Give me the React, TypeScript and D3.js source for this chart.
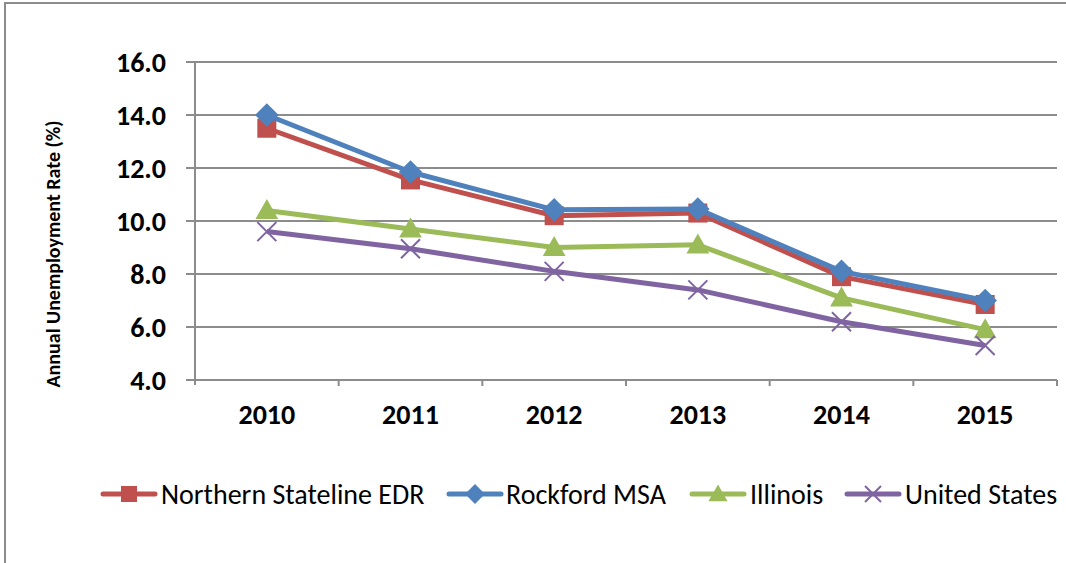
import React from "react";
import * as d3 from "d3";

const years = ["2010", "2011", "2012", "2013", "2014", "2015"];
const northernStateline = [13.5, 11.55, 10.2, 10.3, 7.9, 6.85];
const rockfordMSA = [14.0, 11.85, 10.42, 10.45, 8.1, 7.0];
const illinois = [10.4, 9.7, 9.0, 9.1, 7.1, 5.9];
const unitedStates = [9.6, 8.95, 8.1, 7.4, 6.2, 5.3];
const yTicks = [4, 6, 8, 10, 12, 14, 16];

const seriesNames = ["Northern Stateline EDR", "Rockford MSA", "Illinois", "United States"];
const seriesValues = [northernStateline, rockfordMSA, illinois, unitedStates];
const seriesColors = ["#C0504D", "#4F81BD", "#9BBB59", "#8064A2"];
const seriesMarkers = ["square", "diamond", "triangle", "x"];

const W = 1066;
const H = 563;
const left = 195;
const right = 1057;
const top = 62;
const bottom = 380;
const FONT = "Calibri, Carlito, 'Open Sans', Lato, sans-serif";

function Marker({ type, x, y, color, s }: { type: string; x: number; y: number; color: string; s: number }) {
  if (type === "square") {
    return <rect x={x - s / 2} y={y - s / 2} width={s} height={s} fill={color} />;
  }
  if (type === "diamond") {
    const r = s * 0.62;
    return <path d={`M${x},${y - r}L${x + r},${y}L${x},${y + r}L${x - r},${y}Z`} fill={color} />;
  }
  if (type === "triangle") {
    const r = s * 0.6;
    return <path d={`M${x},${y - r}L${x + r},${y + r * 0.75}L${x - r},${y + r * 0.75}Z`} fill={color} />;
  }
  const r = s * 0.5;
  return (
    <path
      d={`M${x - r},${y - r}L${x + r},${y + r}M${x - r},${y + r}L${x + r},${y - r}`}
      stroke={color}
      strokeWidth={2}
      fill="none"
    />
  );
}

export default function App() {
  const x = d3.scaleBand<string>().domain(years).range([left, right]);
  const y = d3.scaleLinear().domain([4, 16]).range([bottom, top]);
  const line = d3
    .line<number>()
    .x((_, i) => (x(years[i]) as number) + x.bandwidth() / 2)
    .y((d) => y(d));

  const legendItems = [
    { lx: 101, tx: 161 },
    { lx: 447, tx: 506 },
    { lx: 690, tx: 750 },
    { lx: 845, tx: 905 },
  ];
  const legendY = 494;

  return (
    <svg
      width={W}
      height={H}
      style={{ position: "absolute", left: 0, top: 0, background: "#fff" }}
      fontFamily={FONT}
    >
      <rect x={5} y={3} width={W + 10} height={H + 10} fill="#fff" stroke="#8c8c8c" strokeWidth={2} />
      {/* gridlines */}
      {yTicks.map((t) => (
        <g key={t}>
          <line x1={left - 9} x2={right} y1={y(t)} y2={y(t)} stroke="#8c8c8c" strokeWidth={2} />
          <text
            x={166}
            y={y(t)}
            textAnchor="end"
            dominantBaseline="central"
            fontSize={28}
            fontWeight="bold"
            fill="#000"
          >
            {t.toFixed(1)}
          </text>
        </g>
      ))}
      {/* y axis */}
      <line x1={left} x2={left} y1={top} y2={bottom + 5} stroke="#8c8c8c" strokeWidth={2} />
      {/* x ticks */}
      {years.map((yr) => (
        <line
          key={"t" + yr}
          x1={(x(yr) as number) + x.bandwidth()}
          x2={(x(yr) as number) + x.bandwidth()}
          y1={bottom}
          y2={bottom + 6}
          stroke="#8c8c8c"
          strokeWidth={2}
        />
      ))}
      {years.map((yr) => (
        <text
          key={"l" + yr}
          x={(x(yr) as number) + x.bandwidth() / 2}
          y={414}
          textAnchor="middle"
          dominantBaseline="central"
          fontSize={28}
          fontWeight="bold"
          fill="#000"
        >
          {yr}
        </text>
      ))}
      {/* axis title */}
      <text
        transform={`translate(53,254) rotate(-90)`}
        textAnchor="middle"
        dominantBaseline="central"
        fontSize={20}
        fontWeight="bold"
        fill="#000"
      >
        Annual Unemployment Rate (%)
      </text>
      {/* series */}
      {seriesValues.map((vals, si) => (
        <g key={seriesNames[si]}>
          <path d={line(vals) || ""} fill="none" stroke={seriesColors[si]} strokeWidth={5} strokeLinejoin="round" />
          {vals.map((v, i) => (
            <Marker
              key={i}
              type={seriesMarkers[si]}
              x={(x(years[i]) as number) + x.bandwidth() / 2}
              y={y(v)}
              color={seriesColors[si]}
              s={19}
            />
          ))}
        </g>
      ))}
      {/* legend */}
      {legendItems.map((it, si) => (
        <g key={"lg" + si}>
          <line
            x1={it.lx + 2}
            x2={it.lx + 54}
            y1={legendY}
            y2={legendY}
            stroke={seriesColors[si]}
            strokeWidth={5}
            strokeLinecap="round"
          />
          <Marker type={seriesMarkers[si]} x={it.lx + 28} y={legendY} color={seriesColors[si]} s={16} />
          <text x={it.tx} y={legendY} dominantBaseline="central" fontSize={28} fill="#000">
            {seriesNames[si]}
          </text>
        </g>
      ))}
    </svg>
  );
}
